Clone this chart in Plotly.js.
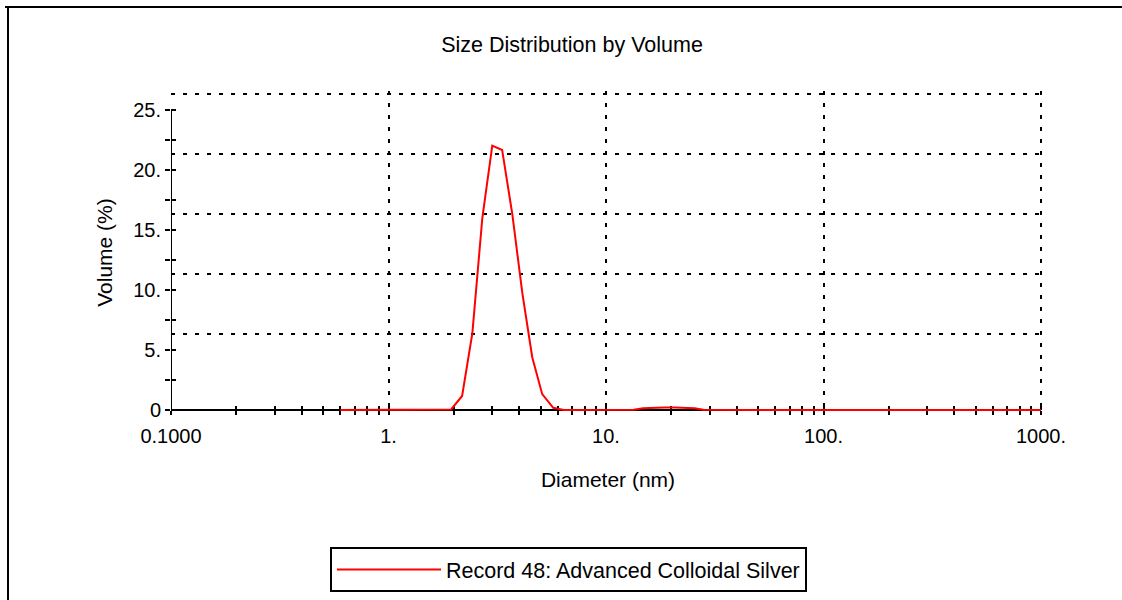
<!DOCTYPE html>
<html><head><meta charset="utf-8">
<script src="https://cdn.plot.ly/plotly-3.0.1.min.js"></script>
<style>html,body{margin:0;padding:0;background:#fff}#chart{width:1122px;height:600px}</style>
</head><body><div id="chart"></div>
<script>
// ---- data ----
const diameterNm = [0.6, 1.0, 1.5, 1.74, 1.94, 2.18, 2.43, 2.70, 3.00, 3.33, 3.71, 4.12, 4.58, 5.09, 5.72, 6.4, 8.0, 10.0, 12.2, 13.4, 14.8, 16.6, 18.6, 20.8, 23.1, 25.6, 28.0, 35, 50, 100, 300, 1000];
const volumePct  = [0,   0,   0,   0,    0.05, 1.17, 6.4,  16.0, 22.03, 21.67, 16.3, 9.8, 4.4, 1.32, 0.18, 0,  0,   0,    0,    0.02, 0.15, 0.2,  0.2,  0.2,  0.2,  0.15, 0.02, 0,  0,  0,   0,   0];
const seriesName = "Record 48: Advanced Colloidal Silver";
const xMajorTicks = [0.1, 1, 10, 100, 1000];
const xMajorLabels = ["0.1000", "1.", "10.", "100.", "1000."];
const xMinorTicks = [0.2,0.3,0.4,0.5,0.6,0.7,0.8,0.9, 2,3,4,5,6,7,8,9, 20,30,40,50,60,70,80,90, 200,300,400,500,600,700,800,900];
const xGridVals = [1, 10, 100, 1000];
const yMajorTicks = [0, 5, 10, 15, 20, 25];
const yMajorLabels = ["0", "5.", "10.", "15.", "20.", "25."];
const yMinorTicks = [2.5, 7.5, 12.5, 17.5, 22.5];
const yGridVals = [6.333, 11.333, 16.333, 21.333, 26.333];

// ---- layout geometry ----
const FONT = "Liberation Sans, Arial, sans-serif";
const ML = 171, MR = 77, MT = 91, MB = 186;
const plotW = 1122 - ML - MR, plotH = 600 - MT - MB;
const xTop = -1 + 4 * plotW / 870;        // 1000 sits at x=1041
const yScale = 316 / 26.333;              // px per %: 0 at y=410, 26.333 at y=94
const yBot = -(600 - MB - 410) / yScale;
const yTop = (410 - MT) / yScale;
const axisPos = (600 - MB - 410) / plotH; // x axis sits at value 0
const pxX = v => (v - ML) / plotW;        // container px -> paper
const pxY = v => (600 - MB - v) / plotH;
const GRID_DASH = '4px,8px';

const trace = {
  x: diameterNm, y: volumePct, xaxis: 'x', yaxis: 'y',
  type: 'scatter', mode: 'lines', name: seriesName, cliponaxis: false,
  line: {color: '#ff0000', width: 2}, hoverinfo: 'skip', showlegend: true
};

const tickFont = {family: FONT, size: 20, color: '#000'};
const titleFont = {family: FONT, size: 21, color: '#000'};
const layout = {
  width: 1122, height: 600,
  margin: {l: ML, r: MR, t: MT, b: MB, autoexpand: false},
  paper_bgcolor: '#fff', plot_bgcolor: 'rgba(0,0,0,0)',
  font: {family: FONT, color: '#000'},
  title: {text: 'Size Distribution by Volume', font: {family: FONT, size: 21.5, color: '#000'},
          x: 572/1122, xref: 'container', xanchor: 'center', y: 1 - 44/600, yref: 'container', yanchor: 'middle'},
  xaxis: {type: 'log', range: [-1, xTop], anchor: 'free', position: axisPos, layer: 'below traces',
          tickmode: 'array', tickvals: xMajorTicks, ticktext: xMajorLabels,
          ticks: 'outside', ticklen: 4, tickwidth: 2, tickcolor: '#000', ticklabelstandoff: 4,
          minor: {tickmode: 'array', tickvals: xMinorTicks, ticks: 'outside', ticklen: 4, tickwidth: 2, tickcolor: '#000', showgrid: false},
          showline: false, showgrid: false, zeroline: false,
          tickfont: tickFont,
          title: {text: 'Diameter (nm)', font: titleFont, standoff: 26}},
  yaxis: {range: [yBot, yTop], anchor: 'x', layer: 'below traces',
          tickmode: 'array', tickvals: yMajorTicks, ticktext: yMajorLabels,
          ticks: 'outside', ticklen: 5, tickwidth: 2, tickcolor: '#000',
          minor: {tickmode: 'array', tickvals: yMinorTicks, ticks: 'outside', ticklen: 5, tickwidth: 2, tickcolor: '#000', showgrid: false},
          showline: false, showgrid: false, zeroline: false,
          tickfont: tickFont,
          title: {text: 'Volume (%)', font: titleFont, standoff: 14}},
  xaxis2: {type: 'log', range: [-1, xTop], overlaying: 'x', anchor: 'free', position: axisPos, side: 'bottom', layer: 'below traces',
          tickmode: 'array', tickvals: xGridVals, showticklabels: false,
          ticks: 'inside', ticklen: 4, tickwidth: 2, tickcolor: '#000',
          minor: {tickmode: 'array', tickvals: [0.1].concat(xMinorTicks), ticks: 'inside', ticklen: 4, tickwidth: 2, tickcolor: '#000', showgrid: false},
          showgrid: true, gridcolor: '#000', gridwidth: 2, griddash: GRID_DASH,
          showline: false, zeroline: false},
  yaxis2: {range: [yBot, yTop], overlaying: 'y', anchor: 'x', side: 'left', layer: 'below traces',
          tickmode: 'array', tickvals: yGridVals, showticklabels: false, ticks: '',
          minor: {tickmode: 'array', tickvals: yMajorTicks.concat(yMinorTicks), ticks: 'inside', ticklen: 5, tickwidth: 2, tickcolor: '#000', showgrid: false},
          showgrid: true, gridcolor: '#000', gridwidth: 2, griddash: GRID_DASH,
          showline: false, zeroline: false},
  showlegend: true,
  legend: {xref: 'paper', yref: 'paper', x: pxX(330), y: pxY(547), xanchor: 'left', yanchor: 'top',
           bordercolor: '#000', borderwidth: 2, bgcolor: '#fff', itemwidth: 104,
           font: {family: FONT, size: 21.5, color: '#000'}},
  shapes: [
    // axis lines (from 0.1 to 1000 and 0 to 25)
    {type: 'line', xref: 'x', yref: 'y', x0: xMajorTicks[0], x1: xMajorTicks[4], y0: 0, y1: 0, layer: 'below', line: {color: '#000', width: 2}},
    {type: 'line', xref: 'x', yref: 'y', x0: xMajorTicks[0], x1: xMajorTicks[0], y0: yMajorTicks[0], y1: yMajorTicks[5], layer: 'below', line: {color: '#000', width: 2}},
    // outer frame (top and left edges)
    {type: 'line', xref: 'paper', yref: 'paper', x0: pxX(5), x1: pxX(1122), y0: pxY(7), y1: pxY(7), line: {color: '#000', width: 2}},
    {type: 'line', xref: 'paper', yref: 'paper', x0: pxX(8), x1: pxX(8), y0: pxY(6), y1: pxY(600), line: {color: '#000', width: 2}}
  ]
};
const dummy = {x: [diameterNm[0]], y: [volumePct[0]], xaxis: 'x2', yaxis: 'y2', type: 'scatter', mode: 'markers',
               marker: {opacity: 0}, showlegend: false, hoverinfo: 'skip'};
Plotly.newPlot('chart', [dummy, trace], layout, {displayModeBar: false, staticPlot: true});
</script>
</body></html>
